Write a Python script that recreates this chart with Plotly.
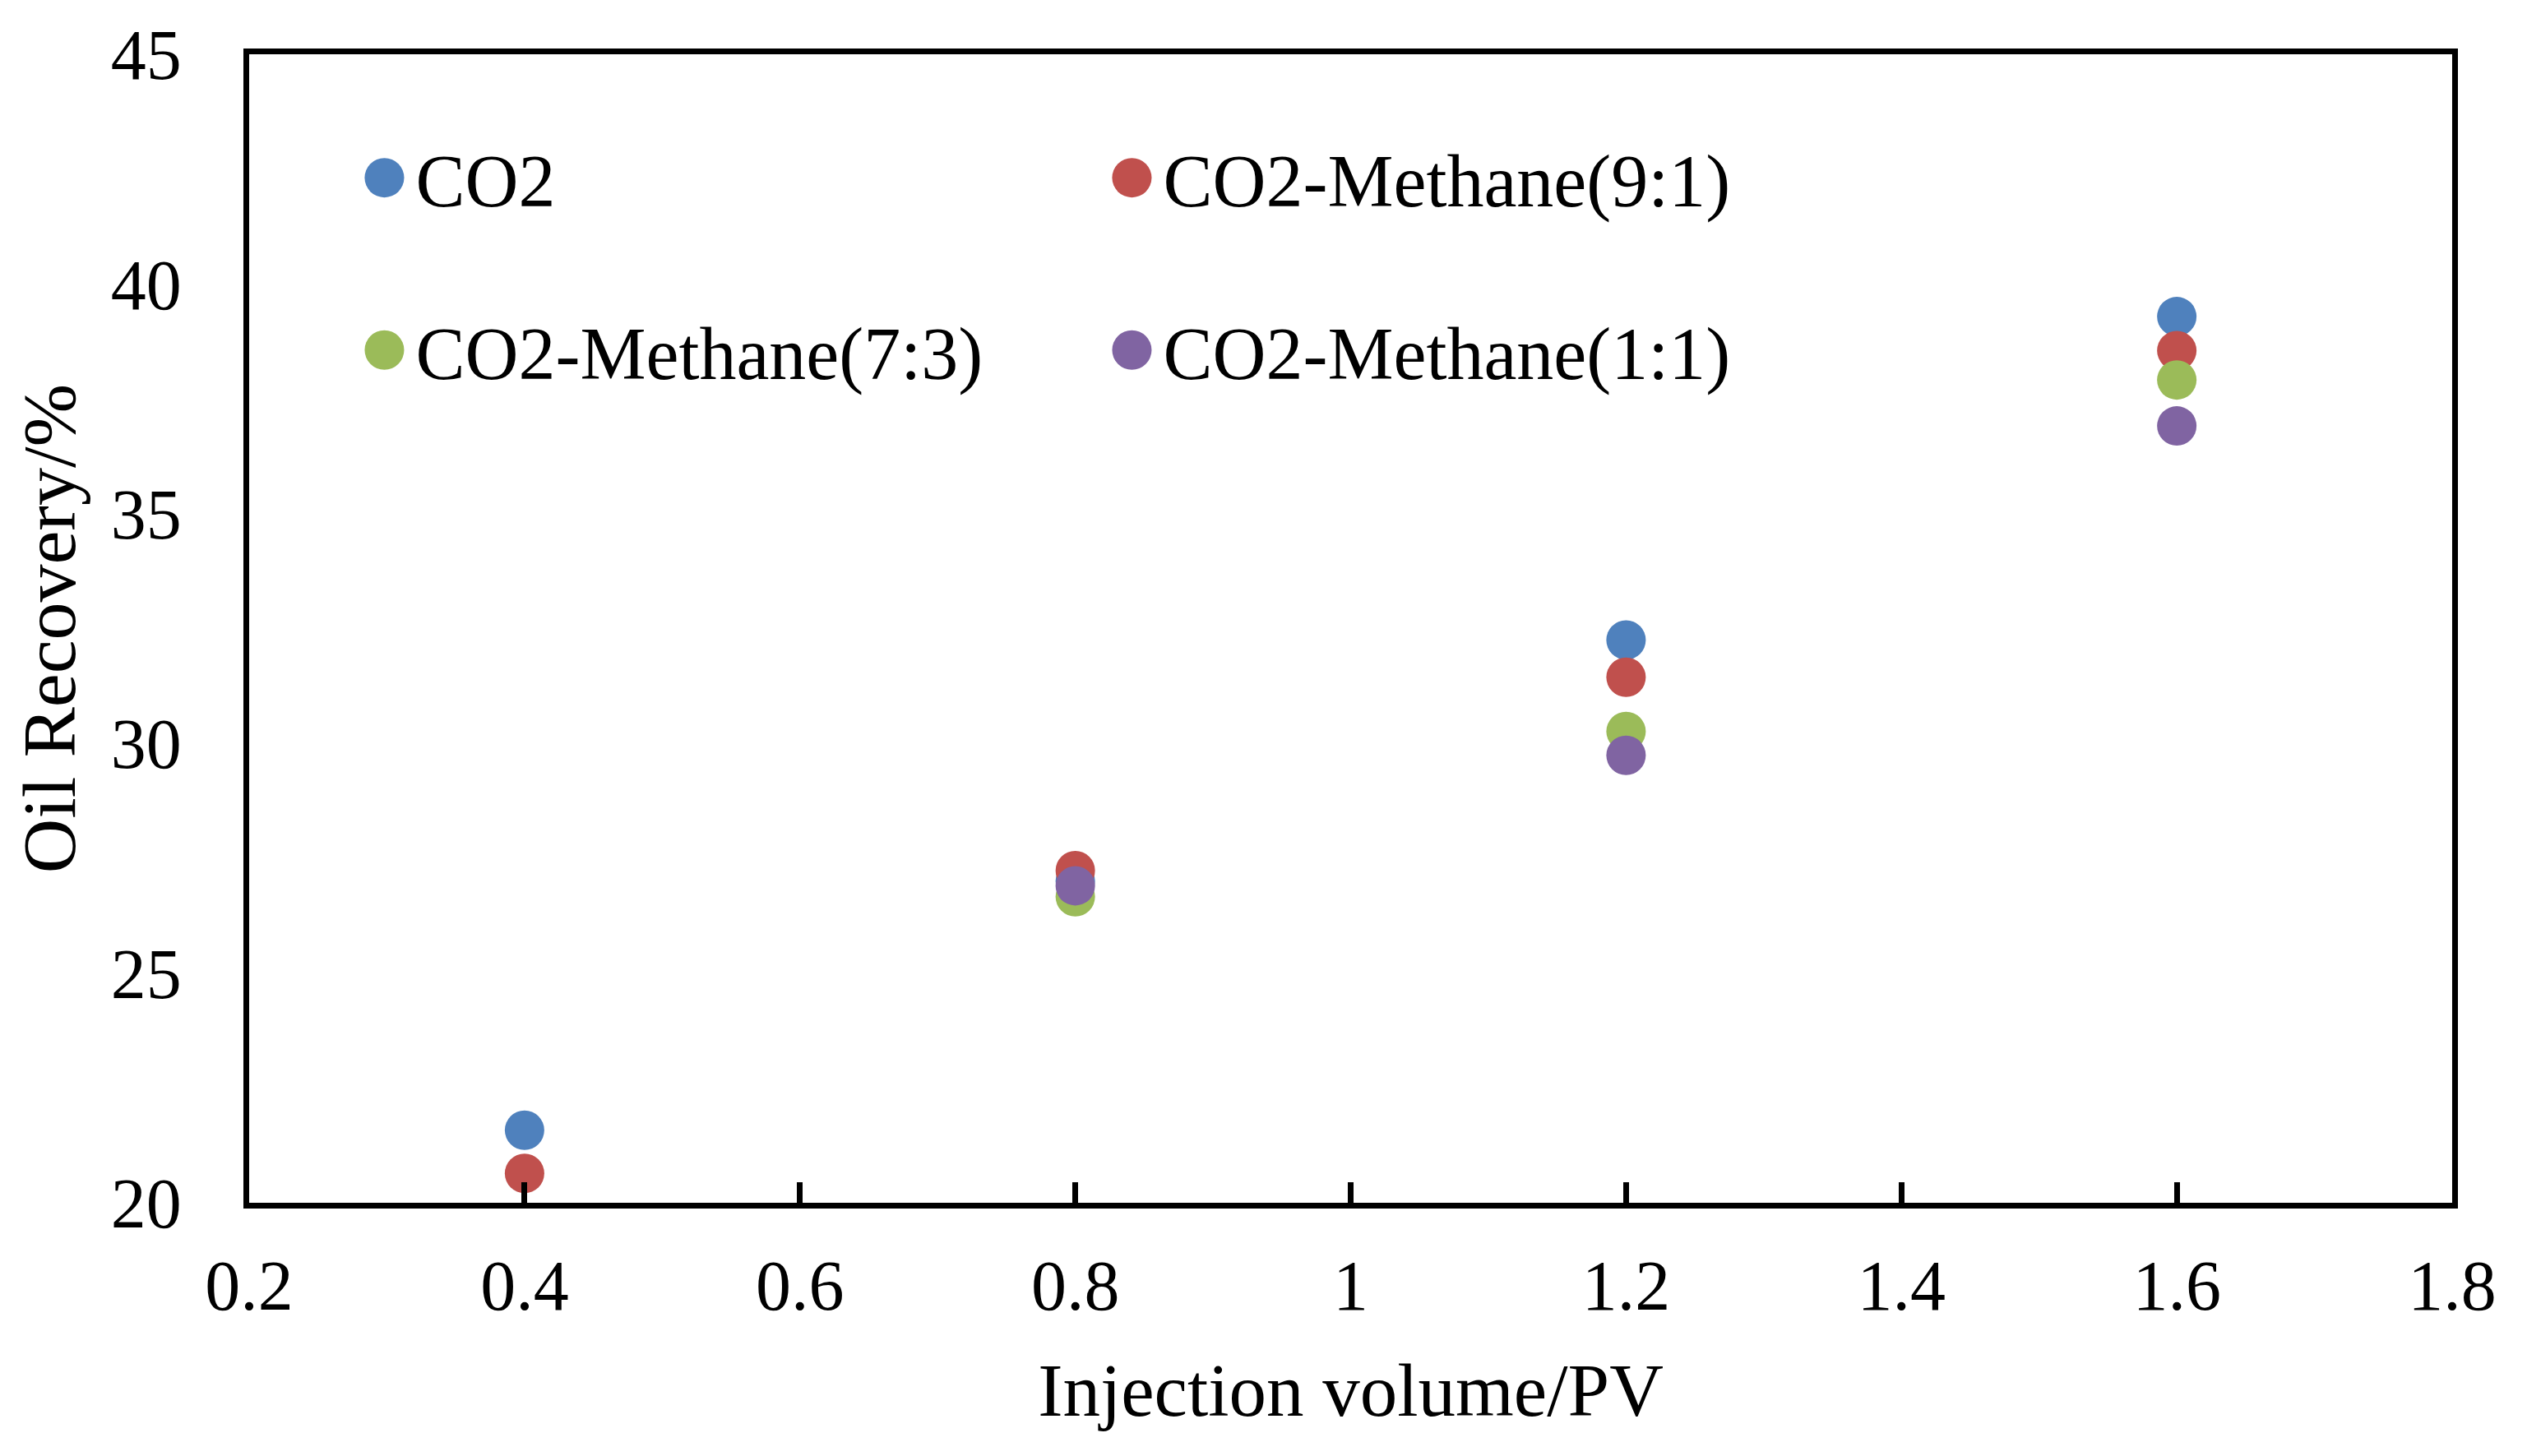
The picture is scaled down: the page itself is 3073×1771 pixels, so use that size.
import plotly.graph_objects as go

# Data
x_vals = [0.4, 0.8, 1.2, 1.6]
co2 = [21.58, 27.0, 32.25, 39.29]
co2_m91 = [20.64, 27.23, 31.44, 38.55]
co2_m73 = [None, 26.66, 30.26, 37.91]
co2_m11 = [None, 26.9, 29.74, 36.91]

names = ["CO2", "CO2-Methane(9:1)", "CO2-Methane(7:3)", "CO2-Methane(1:1)"]
colors = ["#4F81BD", "#C0504D", "#9BBB59", "#8064A2"]
legends = ["legend", "legend", "legend2", "legend2"]
series = [co2, co2_m91, co2_m73, co2_m11]

x_ticks = [0.2, 0.4, 0.6, 0.8, 1.0, 1.2, 1.4, 1.6, 1.8]
x_tick_text = ["0.2", "0.4", "0.6", "0.8", "1", "1.2", "1.4", "1.6", "1.8"]
y_ticks = [20, 25, 30, 35, 40, 45]

FONT = "Liberation Serif, Times New Roman, serif"

fig = go.Figure()
for name, col, lg, ys in zip(names, colors, legends, series):
    fig.add_trace(go.Scatter(
        x=x_vals, y=ys, mode="markers", name=name, legend=lg,
        marker=dict(color=col, size=48, line=dict(width=0)),
    ))

W, H = 3073, 1771
ml, mr, mt, mb = 303, 91, 66, 308

leg_common = dict(orientation="h", xanchor="left", yanchor="middle",
                  entrywidth=828, itemwidth=66, font=dict(size=90),
                  bgcolor="rgba(0,0,0,0)", tracegroupgap=0)

fig.update_layout(
    width=W, height=H,
    margin=dict(l=ml, r=mr, t=mt, b=mb, pad=0),
    paper_bgcolor="white", plot_bgcolor="white",
    font=dict(family=FONT, size=86, color="black"),
    legend=dict(x=0.0472, y=0.8925, **leg_common),
    legend2=dict(x=0.0472, y=0.7425, **leg_common),
    xaxis=dict(range=[0.2, 1.8], tickvals=x_ticks, ticktext=x_tick_text,
               showline=True, linecolor="black", linewidth=7, mirror=True,
               ticks="inside", ticklen=25, tickwidth=7, tickcolor="black",
               showgrid=False, zeroline=False, ticklabelstandoff=20,
               tickfont=dict(size=86),
               title=dict(text="Injection volume/PV", font=dict(size=91), standoff=50)),
    yaxis=dict(range=[20, 45], tickvals=y_ticks,
               showline=True, linecolor="black", linewidth=7, mirror=True,
               ticks="", showgrid=False, zeroline=False, ticklabelstandoff=58,
               tickfont=dict(size=86),
               title=dict(text="Oil Recovery/%", font=dict(size=92), standoff=15)),
)

post = """
document.body.style.margin='0';
var gd = document.getElementById('{plot_id}');
function bigLegend(){
  gd.querySelectorAll('.legendpoints path').forEach(function(p){
    var t = p.getAttribute('transform') || '';
    if (t.indexOf('scale') < 0) { p.setAttribute('transform', t + ' scale(3)'); }
  });
}
bigLegend();
gd.on('plotly_afterplot', bigLegend);
"""

fig.write_html("out.html", post_script=post, config={"displayModeBar": False})
